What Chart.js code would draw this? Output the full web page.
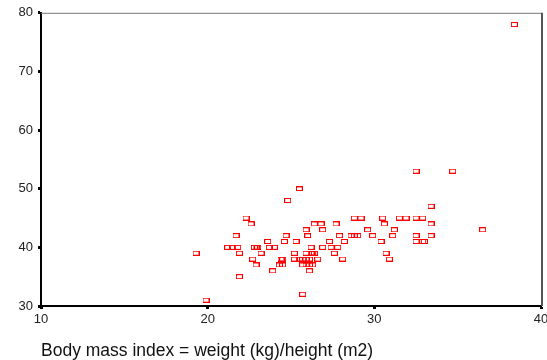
<!DOCTYPE html>
<html>
<head>
<meta charset="utf-8">
<script src="https://cdn.jsdelivr.net/npm/chart.js@4.4.0/dist/chart.umd.min.js"></script>
<style>
  html, body { margin: 0; padding: 0; background: #fff; }
  #wrap { width: 547px; height: 360px; }
</style>
</head>
<body>
<div id="wrap"><canvas id="chart" width="547" height="360"></canvas></div>
<script>
// body mass index vs. value
const bmi = [
  19.3, 19.9, 21.2, 21.5, 21.8, 21.7, 21.9, 21.9, 22.3, 22.6, 22.7, 22.9,
  22.8, 22.9, 23.0, 23.2, 23.6, 23.7, 24.0, 23.9, 24.4, 24.5, 24.3, 24.5,
  24.6, 24.7, 24.8, 25.5, 25.5, 25.2, 25.3, 25.2, 25.5, 25.7, 25.9, 26.1,
  25.9, 26.2, 26.3, 26.4, 25.7, 25.9, 26.1, 26.3, 26.1, 26.6, 25.7, 26.2,
  26.0, 26.0, 25.9, 26.4, 26.8, 26.9, 27.7, 27.3, 26.9, 27.4, 27.8, 27.6,
  28.1, 27.9, 28.2, 28.6, 28.8, 29.0, 28.8, 29.2, 29.6, 29.9, 30.4, 30.5,
  30.6, 30.7, 30.9, 31.1, 31.2, 31.5, 31.9, 32.5, 32.9, 32.5, 32.5, 32.5,
  32.9, 33.0, 33.4, 33.4, 33.4, 34.7, 36.5, 38.4
];
const value = [
  39, 31, 40, 40, 40, 42, 39, 35, 45, 44, 38, 37,
  40, 40, 40, 39, 41, 40, 40, 36, 38, 38, 37, 37,
  41, 42, 48, 50, 50, 39, 41, 38, 38, 38, 38, 38,
  39, 39, 39, 39, 37, 37, 37, 37, 36, 38, 32, 40,
  42, 42, 43, 44, 44, 43, 44, 41, 40, 40, 40, 39,
  38, 42, 41, 42, 42, 42, 45, 45, 43, 42, 41, 45,
  44, 39, 38, 42, 43, 45, 45, 53, 45, 45, 42, 41,
  41, 41, 47, 44, 42, 53, 43, 78
];
const xTicks = [10, 20, 30, 40];
const yTicks = [30, 40, 50, 60, 70, 80];

const points = bmi.map((x, i) => ({ x: x, y: value[i] }));

// small open rectangle marker
const marker = document.createElement('canvas');
marker.width = 7;
marker.height = 5;
const mctx = marker.getContext('2d');
mctx.strokeStyle = '#ff0000';
mctx.lineWidth = 1;
mctx.strokeRect(0.5, 0.5, 6, 4);

const frame = {
  id: 'frame',
  afterDraw(chart) {
    const a = chart.chartArea;
    const c = chart.ctx;
    c.save();
    c.strokeStyle = '#777777';
    c.lineWidth = 1;
    c.beginPath();
    c.moveTo(a.left, a.top + 0.5);
    c.lineTo(a.right, a.top + 0.5);
    c.stroke();
    c.lineWidth = 2;
    c.strokeStyle = '#555555';
    c.beginPath();
    c.moveTo(a.right + 1, a.top);
    c.lineTo(a.right + 1, a.bottom);
    c.stroke();
    c.restore();
  }
};

const ctx = document.getElementById('chart').getContext('2d');
new Chart(ctx, {
  type: 'scatter',
  data: {
    datasets: [{
      data: points,
      pointStyle: marker,
      pointRadius: 3,
      pointHoverRadius: 3
    }]
  },
  options: {
    responsive: false,
    animation: false,
    layout: { padding: { left: 0, right: 6, top: 11, bottom: 0 } },
    plugins: { legend: { display: false }, tooltip: { enabled: false } },
    scales: {
      x: {
        type: 'linear',
        min: 10,
        max: 40,
        afterBuildTicks(scale) { scale.ticks = xTicks.map(v => ({ value: v })); },
        afterFit(scale) { scale.paddingRight = 0; scale.paddingLeft = 0; scale.height = 54; },
        border: { color: '#000000', width: 2 },
        grid: { drawOnChartArea: false, color: '#000000', tickLength: 3, tickWidth: 3 },
        ticks: { color: '#222222', font: { family: 'Liberation Sans, Arial', size: 13 }, padding: 3, maxRotation: 0 },
        title: {
          display: true,
          align: 'start',
          text: 'Body mass index = weight (kg)/height (m2)',
          color: '#111111',
          font: { family: 'Liberation Sans, Arial', size: 17.5, lineHeight: 1.0 },
          padding: { top: 13, bottom: 0 }
        }
      },
      y: {
        type: 'linear',
        min: 30,
        max: 80,
        afterBuildTicks(scale) { scale.ticks = yTicks.map(v => ({ value: v })); },
        afterFit(scale) { scale.width = 41; },
        border: { color: '#000000', width: 2 },
        grid: { drawOnChartArea: false, color: '#000000', tickLength: 3, tickWidth: 3 },
        ticks: { color: '#222222', font: { family: 'Liberation Sans, Arial', size: 13 }, padding: 5 }
      }
    }
  },
  plugins: [frame]
});
</script>
</body>
</html>
